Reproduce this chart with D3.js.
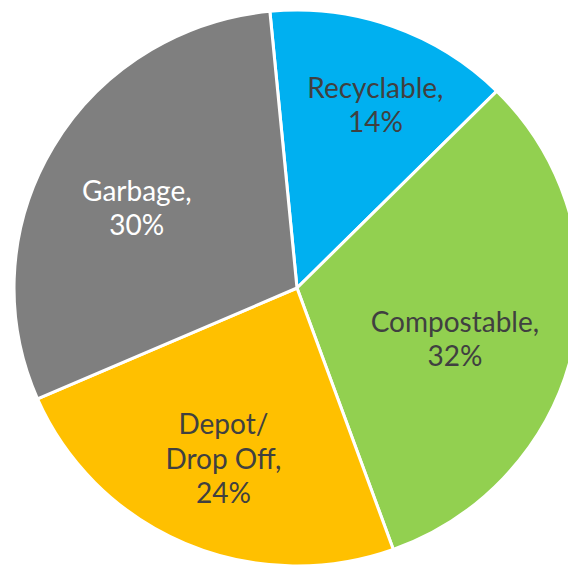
<!DOCTYPE html>
<html>
<head>
<meta charset="utf-8">
<script src="https://cdn.jsdelivr.net/npm/d3@7"></script>
<style>
html,body{margin:0;padding:0;background:#fff;}
svg{display:block;}
</style>
</head>
<body>
<svg id="chart" width="568" height="565"></svg>
<script>
const categories = ["Recyclable", "Compostable", "Depot/\nDrop Off", "Garbage"];
const values = [14, 32, 24, 30];
const colors = ["#00B0F0", "#92D050", "#FFC000", "#7F7F7F"];
const labelColors = ["#404040", "#404040", "#404040", "#FFFFFF"];

const W = 568, H = 565;
const cx = 297, cy = 288;
const ry = 278, rx = 283;
const startDeg = -5.5;

const svg = d3.select("#chart");
const pie = d3.pie().sort(null).value(d => d)
  .startAngle(startDeg * Math.PI / 180)
  .endAngle(startDeg * Math.PI / 180 + 2 * Math.PI);
const arcs = pie(values);
const arc = d3.arc().innerRadius(0).outerRadius(ry);

const g = svg.append("g").attr("transform", `translate(${cx},${cy}) scale(${rx / ry},1)`);
g.selectAll("path").data(arcs).enter().append("path")
  .attr("d", arc)
  .attr("fill", (d, i) => colors[i])
  .attr("stroke", "#fff")
  .attr("stroke-width", 3)
  .attr("stroke-linejoin", "round");

// label placement (radius and angular nudge per slice)
const labelR = [199, 166, 186, 179];
const labelDA = [3.5, 5.5, 0, -4];
const lineH = 34.5;
const lg = svg.append("g").attr("transform", `translate(${cx},${cy})`);
arcs.forEach((d, i) => {
  const a = (d.startAngle + d.endAngle) / 2 + labelDA[i] * Math.PI / 180;
  const x = Math.sin(a) * labelR[i];
  const y = -Math.cos(a) * labelR[i];
  const lines = (categories[i] + ",\n" + values[i] + "%").split("\n");
  const t = lg.append("text")
    .attr("x", x).attr("y", y)
    .attr("text-anchor", "middle")
    .attr("fill", labelColors[i])
    .style("font-family", "Lato, 'Open Sans', sans-serif")
    .style("font-size", "28px");
  const n = lines.length;
  lines.forEach((s, k) => {
    t.append("tspan")
      .attr("x", x)
      .attr("y", y + (k - (n - 1) / 2) * lineH)
      .attr("dy", "0.35em")
      .text(s);
  });
});
</script>
</body>
</html>
